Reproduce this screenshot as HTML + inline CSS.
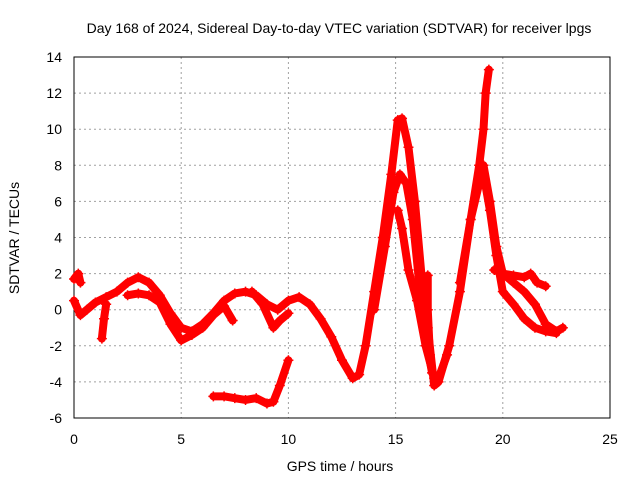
<!DOCTYPE html>
<html><head><meta charset="utf-8"><style>
body{margin:0;background:#fff}
svg{display:block;font-family:"Liberation Sans",sans-serif}
</style></head><body>
<svg id="chart" width="640" height="480" viewBox="0 0 640 480">
<rect width="640" height="480" fill="#fff"/>
<text x="339" y="33" font-size="14" text-anchor="middle" fill="#000">Day 168 of 2024, Sidereal Day-to-day VTEC variation (SDTVAR) for receiver lpgs</text>
<g id="grid"></g>
<g id="axes"></g>
<g id="series"></g>
<text x="340" y="471" font-size="14" text-anchor="middle">GPS time / hours</text>
<text transform="translate(19,238) rotate(-90)" font-size="14" text-anchor="middle">SDTVAR / TECUs</text>
</svg>
<script>
const xTicks=[0,5,10,15,20,25];
const yTicks=[-6,-4,-2,0,2,4,6,8,10,12,14];
const arcMain=[[0,0.5],[0.3,-0.3],[0.6,0.0],[1,0.4],[1.5,0.7],[2,1.0],[2.5,1.5],[3,1.8],[3.5,1.5],[4,0.8],[4.5,-0.2],[5,-1.0],[5.5,-1.2],[6,-0.8],[6.5,-0.2],[7,0.5],[7.5,0.9],[8,1.0],[8.5,0.8],[9,0.3],[9.5,0.0],[10,0.5],[10.5,0.7],[11,0.3],[11.5,-0.5],[12,-1.5],[12.5,-2.8],[13,-3.8],[13.3,-3.6],[13.6,-2],[14,1],[14.4,4],[14.8,7.5],[15.1,10.5],[15.3,10.6],[15.6,9],[15.9,6],[16.2,2],[16.5,-1],[16.8,-4.2],[17,-4],[17.5,-2],[18,1],[18.5,5],[18.9,8],[19.1,10],[19.2,12],[19.35,13.3]];
const arcTail=[[19.1,8],[19.4,6],[19.7,3.5],[20,2],[20.5,1.5],[21,1],[21.5,0.3],[22,-0.8],[22.5,-1.2],[22.8,-1.0]];
const arcLower=[[2.5,0.8],[3,0.9],[3.5,0.8],[4,0.4],[4.5,-0.8],[5,-1.7],[5.5,-1.4],[6,-1.0],[6.5,-0.3],[7,0.2],[7.4,-0.6]];
const arcDip=[[8.3,1.0],[8.8,0.3],[9.3,-1.0],[9.6,-0.6],[10,-0.2]];
const arcPeak2=[[14.0,0],[14.5,3.5],[14.9,6.5],[15.2,7.5],[15.5,7],[15.8,5],[16.1,1.5],[16.4,-1.5],[16.7,-3.5],[17,-3.8],[17.4,-2.5]];
const arcPeak2b=[[15.1,5.5],[15.3,4.5],[15.6,2.2],[16,0.5],[16.4,-2],[16.8,-3.8]];
const arcVert=[[16.5,1.9],[16.5,0],[16.6,-2.5]];
const arcPeak3=[[18,1.5],[18.5,5],[18.9,7],[19.1,7.5],[19.4,5.5],[19.7,3],[20,1],[20.5,0.3],[21,-0.5],[21.5,-1],[22,-1.2],[22.5,-1.3]];
const arcUpper=[[19.6,2.2],[20,2.0],[20.5,1.9],[21,1.8],[21.3,2.0],[21.6,1.5],[22,1.3]];
const arcLow=[[6.5,-4.8],[7,-4.8],[7.5,-4.9],[8,-5.0],[8.5,-4.9],[9,-5.2],[9.3,-5.1],[9.6,-4.2],[10,-2.8]];
const arcSpike=[[0,1.7],[0.2,2.0],[0.3,1.5]];
const arcDrop=[[1.3,-1.6],[1.4,-0.5],[1.5,0.3]];
const arcs=[arcMain,arcTail,arcLower,arcDip,arcPeak2,arcPeak2b,arcVert,arcPeak3,arcUpper,arcLow,arcSpike,arcDrop];
const X0=74,X1=610,Y0=418,Y1=57;
const sx=v=>X0+(v-0)/(25-0)*(X1-X0);
const sy=v=>Y0-(v+6)/(14+6)*(Y0-Y1);
const NS="http://www.w3.org/2000/svg";
const grid=document.getElementById('grid'),axes=document.getElementById('axes'),ser=document.getElementById('series');
function mk(t,a,p){const e=document.createElementNS(NS,t);for(const k in a)e.setAttribute(k,a[k]);p.appendChild(e);return e;}
xTicks.forEach(t=>{
 if(t>0&&t<25){const g=mk('line',{x1:sx(t),x2:sx(t),y1:Y1,y2:Y0,stroke:'#a0a0a0','stroke-dasharray':'2,3'},grid);
 
 }
 const l=mk('text',{x:sx(t),y:Y0+26,'font-size':14,'text-anchor':'middle'},axes);l.textContent=t;
 
 
});
yTicks.forEach(t=>{
 if(t>-6&&t<14){const g=mk('line',{x1:X0,x2:X1,y1:sy(t),y2:sy(t),stroke:'#a0a0a0','stroke-dasharray':'2,3'},grid);
 
 }
 const l=mk('text',{x:X0-12,y:sy(t)+5,'font-size':14,'text-anchor':'end'},axes);l.textContent=t;
 
 
});
const frame=mk('rect',{x:X0,y:Y1,width:X1-X0,height:Y0-Y1,fill:'none',stroke:'#000','stroke-width':1},axes);


arcs.forEach(a=>{
 const pl=mk('polyline',{points:a.map(p=>sx(p[0])+','+sy(p[1])).join(' '),fill:'none',stroke:'#ff0000','stroke-width':8,'stroke-linejoin':'round','stroke-linecap':'round'},ser);
 
 
 a.forEach(p=>{
  const x=sx(p[0]),y=sy(p[1]);
  const m=mk('path',{d:`M${x-5},${y}h10M${x},${y-5}v10`,stroke:'#ff0000','stroke-width':1.5},ser);
  
  
 });
});
</script>
</body></html>
